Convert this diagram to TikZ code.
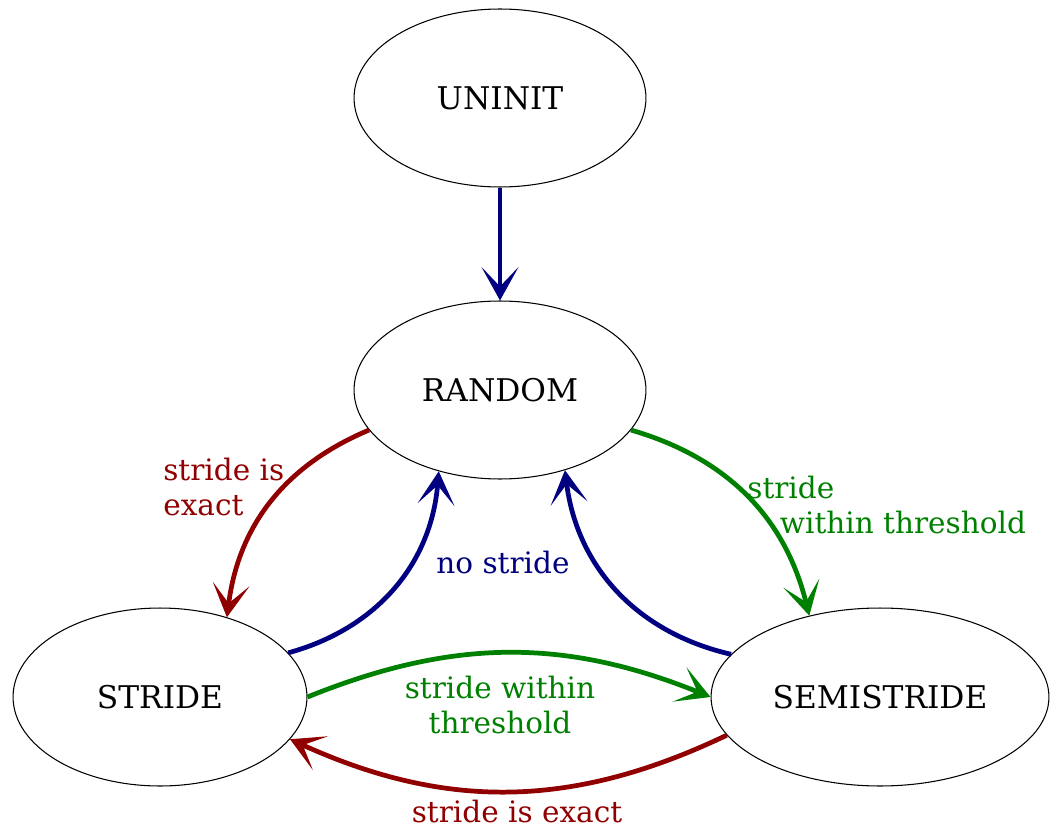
\documentclass[tikz,border=0pt]{standalone}
\usepackage{fontspec}
\setmainfont{DejaVu Serif}
\usetikzlibrary{shapes.geometric,arrows.meta}

\definecolor{navyline}{RGB}{0,0,128}
\definecolor{redline}{RGB}{145,0,0}
\definecolor{greenline}{RGB}{0,128,0}

\tikzset{
  state/.style={ellipse, draw, line width=0.6pt, inner sep=0pt,
    minimum height=3.56cm, font=\fontsize{17.8pt}{21pt}\selectfont},
  trans/.style={line width=2.7pt,
    arrows={-Stealth[length=19pt,width=21pt,inset=11pt]}},
  lbl/.style={font=\fontsize{16.8pt}{19.4pt}\selectfont, inner sep=0pt}
}

\begin{document}
\begin{tikzpicture}[x=0.02cm, y=-0.02cm]
\useasboundingbox (0,0) rectangle (1050,827);

% состояния: имя/x/y/полуось
\foreach \s/\x/\y/\rx in {
UNINIT/500/98/146,RANDOM/500/390/146,STRIDE/160/697/147,SEMISTRIDE/880/697/169}
{
  \node[state, minimum width=\rx*0.04cm] (\s) at (\x,\y) {\s};
}

% переходы
\draw[trans, navyline] (UNINIT) -- (RANDOM);
\draw[trans, redline] (RANDOM.197) to[bend right=30] (STRIDE.50);
\draw[trans, navyline] (STRIDE.19) to[bend right=35] (RANDOM.233);
\draw[trans, navyline] (SEMISTRIDE.164) to[bend left=35] (RANDOM.309);
\draw[trans, greenline] (RANDOM.343) to[bend left=30] (SEMISTRIDE.131);
\draw[trans, greenline] (STRIDE.east) to[bend left=22] (SEMISTRIDE.west);
\draw[trans, redline] (SEMISTRIDE.194) to[bend left=25] (STRIDE.342);

% подписи
\node[lbl, redline, anchor=west, align=left] (exactA) at (163,487) {stride is\\exact};
\node[lbl, navyline] (nostride) at (503,562) {no stride};
\node[lbl, greenline, anchor=west, align=left] (withinA) at (747,505)
  {stride\\\hspace*{1.1em}within threshold};
\node[lbl, greenline, align=center] (withinB) at (500,705) {stride within\\threshold};
\node[lbl, redline] (exactB) at (517,811) {stride is exact};

\end{tikzpicture}
\end{document}
